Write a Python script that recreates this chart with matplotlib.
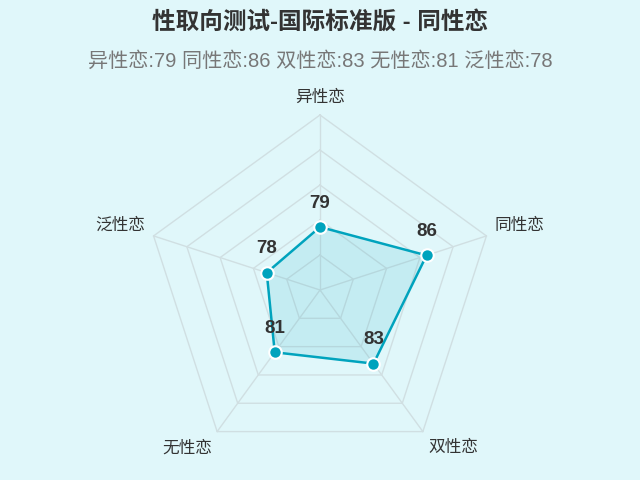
import numpy as np
import matplotlib
matplotlib.use("Agg")
import matplotlib.pyplot as plt

plt.rcParams["font.family"] = ["Liberation Sans", "Noto Sans CJK SC", "DejaVu Sans"]

# ─── Data ─────────────────────────────────────────────────────────────────────
categories = ["异性恋", "同性恋", "双性恋", "无性恋", "泛性恋"]
scores = [79, 86, 83, 81, 78]
ring_levels = [75, 80, 85, 90, 95]
r_min, r_max = 70, 95

title = "性取向测试-国际标准版 - 同性恋"
subtitle = " ".join(f"{c}:{v}" for c, v in zip(categories, scores))

# ─── Style ────────────────────────────────────────────────────────────────────
BG = "#e0f7fa"
LINE = "#00a3bd"
GRID = "#d0dfe2"
TEXT = "#333333"

W, H = 640, 480
CX, CY, R = 320, 290, 175  # centre & radius in pixels

fig = plt.figure(figsize=(W / 100, H / 100), dpi=100, facecolor=BG)
ax = fig.add_axes([0, 0, 1, 1])
ax.set_facecolor(BG)
ax.set_xlim(-CX / R, (W - CX) / R)
ax.set_ylim(-(H - CY) / R, CY / R)
ax.axis("off")

n = len(categories)
angles = np.pi / 2 - 2 * np.pi * np.arange(n) / n


def to_xy(vals):
    r = (np.asarray(vals, float) - r_min) / (r_max - r_min)
    return r * np.cos(angles), r * np.sin(angles)


# grid rings and spokes
for lvl in ring_levels:
    gx, gy = to_xy([lvl] * n)
    ax.plot(np.r_[gx, gx[0]], np.r_[gy, gy[0]], color=GRID, lw=1, zorder=1)
ox, oy = to_xy([r_max] * n)
for x, y in zip(ox, oy):
    ax.plot([0, x], [0, y], color=GRID, lw=1, zorder=1)

# data polygon
px, py = to_xy(scores)
ax.fill(np.r_[px, px[0]], np.r_[py, py[0]], color=LINE, alpha=0.12, lw=0, zorder=2)
ax.plot(np.r_[px, px[0]], np.r_[py, py[0]], color=LINE, lw=1.8, zorder=3)
ax.plot(px, py, "o", ms=9, mfc=LINE, mec="white", mew=1.5, zorder=4)

for x, y, v in zip(px, py, scores):
    ax.annotate(str(v), (x, y), xytext=(0, 24), textcoords="offset pixels",
                ha="center", va="center", fontsize=13.5, fontweight="bold",
                color=TEXT, zorder=5)

# category labels
for ang, lab in zip(angles, categories):
    c, s = np.cos(ang), np.sin(ang)
    ha = "center" if abs(c) < 0.1 else ("left" if c > 0 else "right")
    va = "bottom" if s > 0 else "top"
    ax.text(1.05 * c, 1.06 * s, lab, ha=ha, va=va, fontsize=12, color=TEXT)

fig.text(0.5, 1 - 22 / H, title, ha="center", va="center",
         fontsize=17, fontweight="bold", color=TEXT)
fig.text(0.5, 1 - 61 / H, subtitle, ha="center", va="center",
         fontsize=14.5, color="#777777")

fig.savefig("out.png", dpi=100, facecolor=BG)
